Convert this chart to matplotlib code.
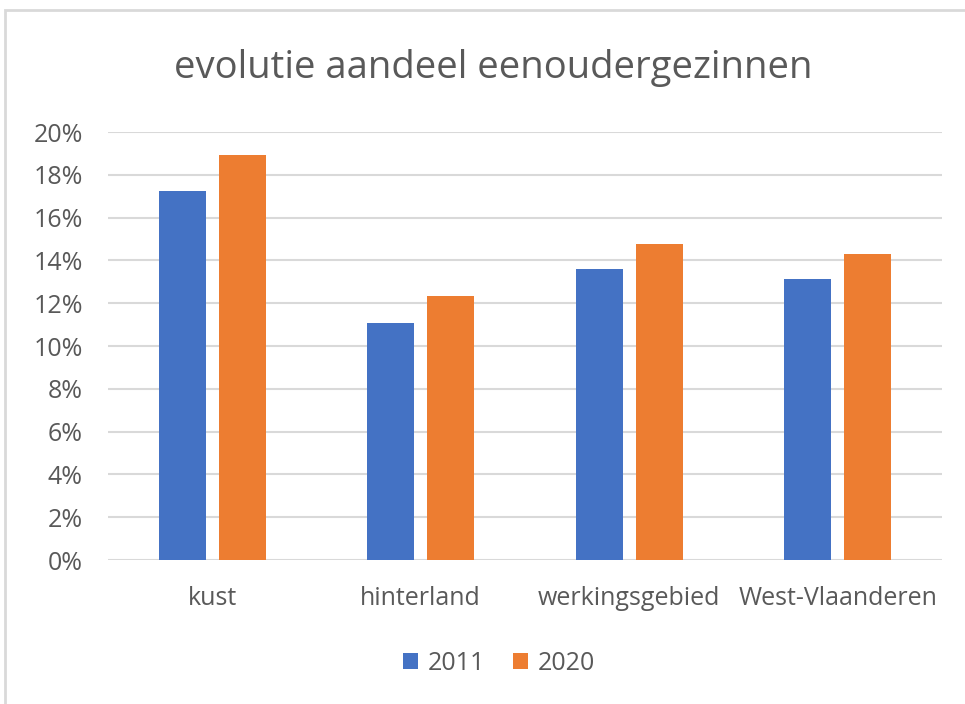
import matplotlib
matplotlib.use("Agg")
import matplotlib.pyplot as plt
import numpy as np
from matplotlib.patches import Rectangle
from matplotlib.ticker import FuncFormatter

categories = ["kust", "hinterland", "werkingsgebied", "West-Vlaanderen"]
series_names = ["2011", "2020"]
values_2011 = [0.1724, 0.1106, 0.1358, 0.1314]
values_2020 = [0.1893, 0.1235, 0.1475, 0.1431]
colors = ["#4472C4", "#ED7D31"]

plt.rcParams['font.family'] = ['Open Sans', 'DejaVu Sans']
text_color = "#595959"

fig = plt.figure(figsize=(9.65, 7.04), dpi=100)
fig.patch.set_facecolor("white")
# chart border
fig.add_artist(Rectangle((5/965, -0.01), 1.0, 1 - 10/704 + 0.01, transform=fig.transFigure,
                         fill=False, edgecolor="#d9d9d9", linewidth=2))

ax = fig.add_axes([108/965, 1 - 560/704, 834/965, (560 - 132)/704])
x = np.arange(len(categories))
w = 0.225
off = 0.143
ax.bar(x - off, values_2011, width=w, color=colors[0], label=series_names[0], zorder=3)
ax.bar(x + off, values_2020, width=w, color=colors[1], label=series_names[1], zorder=3)

ax.set_xlim(-0.5, len(categories) - 0.5)
ax.set_ylim(0, 0.20)
ax.set_yticks(np.arange(0, 0.2001, 0.02))
ax.yaxis.set_major_formatter(FuncFormatter(lambda v, p: f"{round(v*100)}%"))
ax.set_xticks(x)
ax.set_xticklabels(categories)
ax.grid(axis="y", color="#d9d9d9", linewidth=1.5, zorder=0)
for s in ax.spines.values():
    s.set_visible(False)
ax.tick_params(axis="both", length=0, labelsize=18, labelcolor=text_color)
ax.tick_params(axis="x", pad=19)
ax.tick_params(axis="y", pad=18)

fig.text(493/965, 1 - 68/704, "evolutie aandeel eenoudergezinnen", ha="center", va="center",
         fontsize=27.5, color=text_color)

leg = fig.legend(loc="center", bbox_to_anchor=(499/965, 1 - 663/704), ncol=2, frameon=False,
                 fontsize=18, handlelength=0.6, handleheight=0.6, handletextpad=0.4,
                 columnspacing=1.1)
for t in leg.get_texts():
    t.set_color(text_color)

fig.savefig("out.png", dpi=100, facecolor="white")
